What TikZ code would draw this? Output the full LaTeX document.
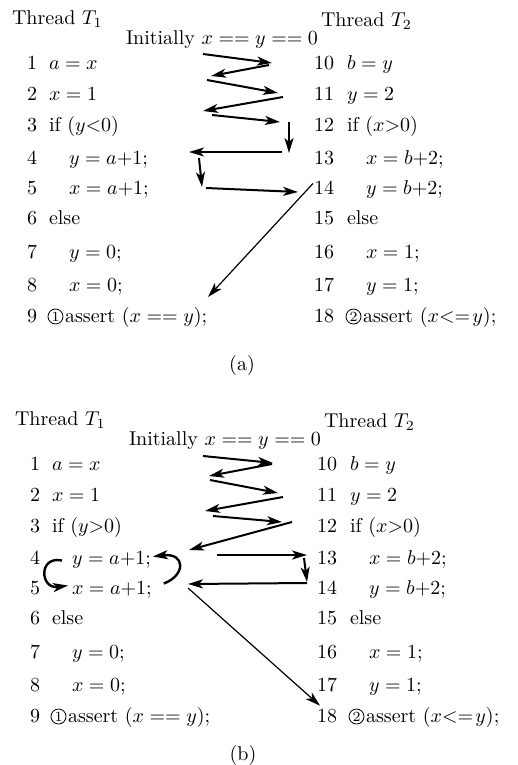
\documentclass[tikz,border=0pt]{standalone}
\usepackage{amsmath}
\usepackage{tikz}
\usetikzlibrary{arrows.meta}

\begin{document}
\begin{tikzpicture}[x=0.5pt, y=-0.5pt, line width=1pt,
        every node/.style={inner sep=0pt, anchor=base west},
        flow/.style={-{Stealth[length=7.5pt, width=4.5pt, inset=2pt]}},
        cnum/.style={circle, draw, line width=0.4pt, minimum size=7.5pt, anchor=center, font=\scriptsize}]
        \useasboundingbox (0,0) rectangle (518,765);

        % The two listings, (a) on top and (b) below
        \foreach \sub/\dx/\dy/\cmp in {a/0/0/<, b/3/400/>} {
          \begin{scope}[shift={(\dx,\dy)}]
            \node (\sub-t1) at (11,25) {Thread $T_1$};
            \node (\sub-t2) at (320,27) {Thread $T_2$};
            \node (\sub-init) at (125,45) {Initially $x==y==0$};

            % Thread T1
            \foreach \n/\y/\ind/\code in {1/70/0/{$a=x$}, 2/101/0/{$x=1$}, 3/132/0/{if $(y{\cmp}0)$},
                4/164/20/{$y=a{+}1;$}, 5/194/20/{$x=a{+}1;$}, 6/224/0/{else},
                7/258/20/{$y=0;$}, 8/291/20/{$x=0;$}, 9/322/16/{assert $(x==y)$;}} {
              \node (\sub-n\n) at (26,\y) {\n};
              \node (\sub-c\n) at (48+\ind,\y) {\code};
            }
            \node[cnum] (\sub-m1) at (55.5,316.5) {1};

            % Thread T2
            \foreach \n/\y/\ind/\code in {10/70/0/{$b=y$}, 11/101/0/{$y=2$}, 12/132/0/{if $(x{>}0)$},
                13/164/19/{$x=b{+}2;$}, 14/194/19/{$y=b{+}2;$}, 15/224/0/{else},
                16/258/19/{$x=1;$}, 17/291/19/{$y=1;$}, 18/322/16/{assert $(x{<}{=}\mkern2mu y)$;}} {
              \node (\sub-n\n) at (313,\y) {\n};
              \node (\sub-c\n) at (346+\ind,\y) {\code};
            }
            \node[cnum] (\sub-m2) at (353.5,316.5) {2};
          \end{scope}
        }

        % Captions
        \node[anchor=base] (cap-a) at (242,370) {(a)};
        \node[anchor=base] (cap-b) at (243,760) {(b)};

        % Interleaving (a)
        \foreach \i/\ax/\ay/\bx/\by in {1/203/54/272/63, 2/269/65/211/76, 3/207/80/278/93,
            4/283/97/203/111, 5/212/115/280/122, 6/289/122/289/153,
            7/282/152/189/152, 8/199/158/202/187, 9/206/188/298/192} {
          \coordinate (a-from\i) at (\ax,\ay);
          \coordinate (a-to\i) at (\bx,\by);
          \draw[flow] (a-from\i) -- (a-to\i);
        }
        \coordinate (a-to10) at (208,297);
        \draw[flow, line width=0.6pt] ([shift={(0,4)}]a-n14.north west) -- (a-to10);

        % Interleaving (b)
        \foreach \i/\ax/\ay/\bx/\by in {1/203/456/273/463, 2/272/464/209/476, 3/210/480/278/493,
            4/283/497/205/511, 5/213/516/282/522, 6/292/522/189/550,
            7/217/555/307/555, 8/304/558/307/582, 9/307/583/188/584} {
          \coordinate (b-from\i) at (\ax,\ay);
          \coordinate (b-to\i) at (\bx,\by);
          \draw[flow] (b-from\i) -- (b-to\i);
        }
        \coordinate (b-from10) at (188,588);
        \draw[flow, line width=0.6pt] (b-from10) -- ([shift={(4,-2)}]b-n18.north west);

        % The loop between lines 4 and 5
        \draw[flow, line width=1.2pt] ([shift={(11,-6)}]b-c5.east) .. controls +(22,-8) and +(33,-4) .. ([shift={(1,-3)}]b-c4.east);
        \draw[flow, line width=1.2pt] ([shift={(-9,1)}]b-c4.west) .. controls +(-24,-5) and +(-28,4) .. ([shift={(-3,-4)}]b-c5.west);
    \end{tikzpicture}
\end{document}
